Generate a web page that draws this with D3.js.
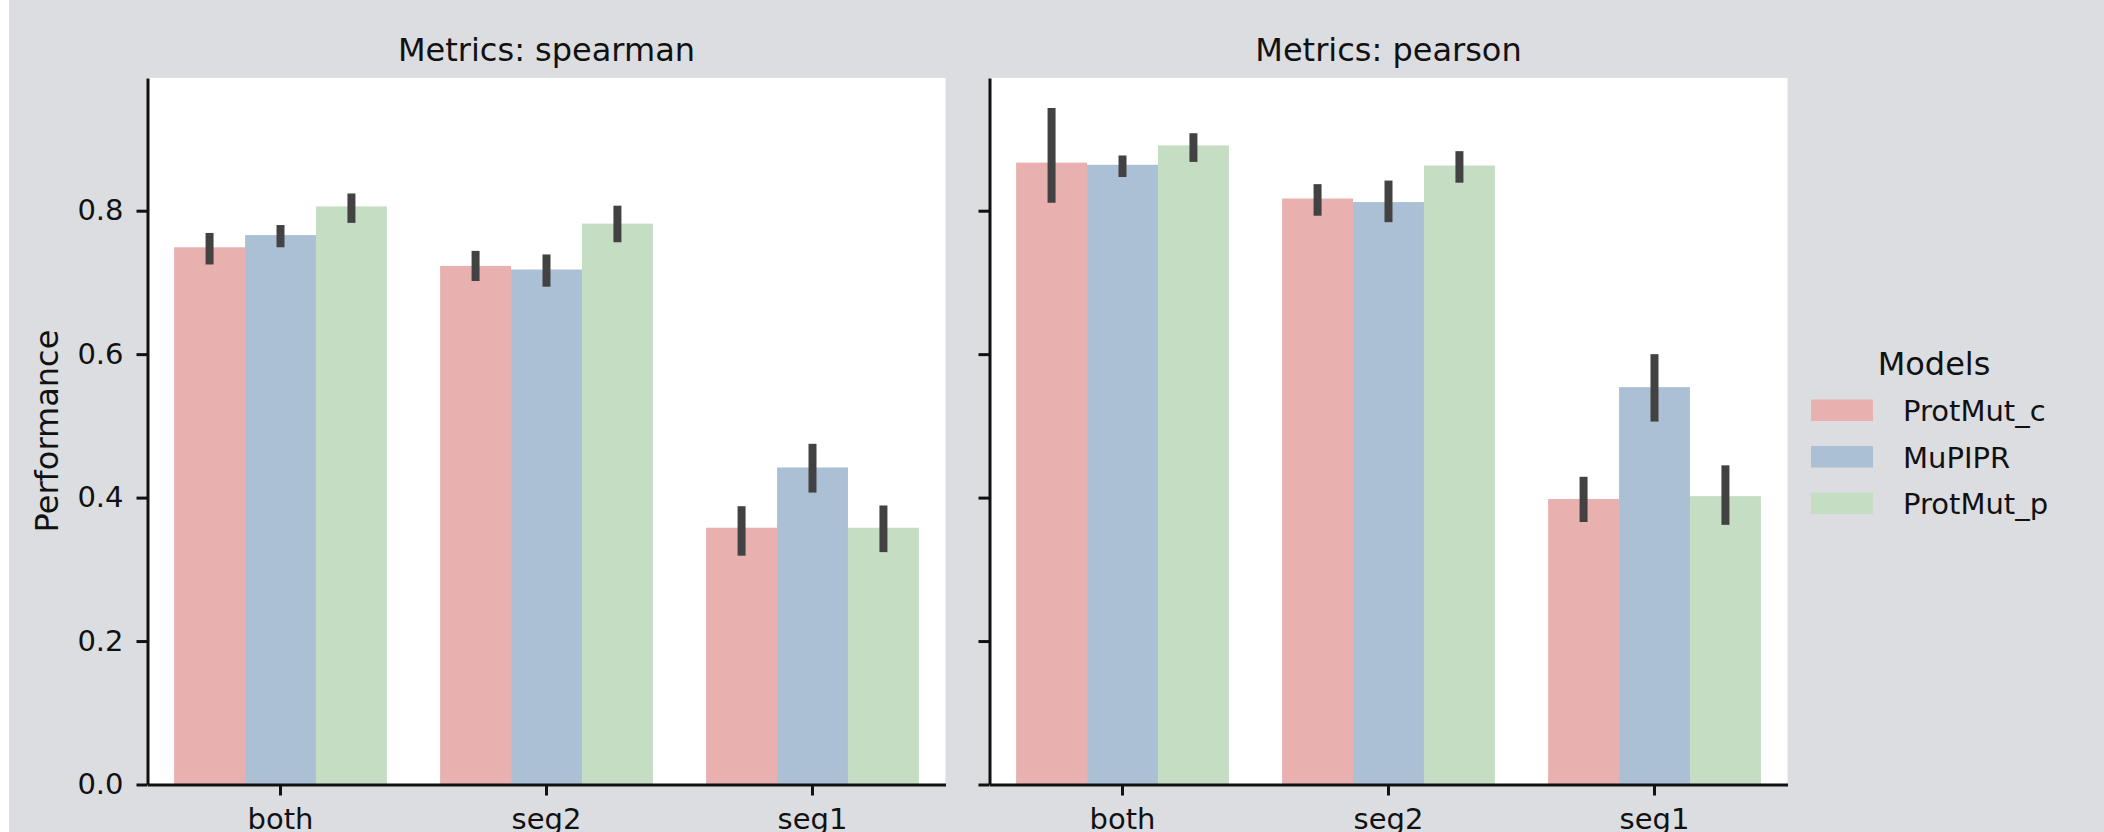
<!DOCTYPE html>
<html>
<head>
<meta charset="utf-8">
<script src="https://cdn.jsdelivr.net/npm/d3@7"></script>
<style>
  html, body { margin: 0; padding: 0; background: #ffffff; }
  svg { display: block; font-family: "DejaVu Sans", sans-serif; }
</style>
</head>
<body>
<div id="chart"></div>
<script>
// data
var categories = ["both", "seg2", "seg1"];
var models = ["ProtMut_c", "MuPIPR", "ProtMut_p"];
var metrics = ["spearman", "pearson"];
var yTicks = [0.0, 0.2, 0.4, 0.6, 0.8];

// rows = categories, columns = models
var spearmanMean = [[0.749, 0.766, 0.806], [0.723, 0.718, 0.782], [0.358, 0.442, 0.358]];
var spearmanLo   = [[0.725, 0.749, 0.783], [0.702, 0.694, 0.756], [0.319, 0.407, 0.324]];
var spearmanHi   = [[0.769, 0.780, 0.824], [0.744, 0.739, 0.807], [0.388, 0.475, 0.389]];
var pearsonMean  = [[0.867, 0.864, 0.891], [0.817, 0.812, 0.863], [0.398, 0.554, 0.402]];
var pearsonLo    = [[0.811, 0.847, 0.868], [0.793, 0.784, 0.839], [0.366, 0.506, 0.362]];
var pearsonHi    = [[0.943, 0.877, 0.908], [0.837, 0.842, 0.883], [0.429, 0.600, 0.445]];

var colors = ["#e9b0b0", "#abc0d5", "#c4ddc3"];
var ink = "#111111";

// setup
var w = 2104;
var h = 832;
var panelW = 798;
var panelLeft = [147.5, 989.5];
var plotTop = 78;
var plotBottom = 784.5;

var svg = d3.select("#chart")
    .append("svg")
    .attr("width", w)
    .attr("height", h);

svg.append("rect")
    .attr("x", 9).attr("y", 0)
    .attr("width", w - 9).attr("height", h)
    .attr("fill", "#dcdde0");

var y = d3.scaleLinear().domain([0, 0.985]).range([plotBottom, plotTop]);
var x = d3.scaleBand().domain(categories).range([0, panelW])
    .paddingInner(0.2).paddingOuter(0.1);
var xHue = d3.scaleBand().domain(models).range([0, x.bandwidth()]);

var panels = [
    {name: metrics[0], mean: spearmanMean, lo: spearmanLo, hi: spearmanHi},
    {name: metrics[1], mean: pearsonMean, lo: pearsonLo, hi: pearsonHi}
];

panels.forEach(function(p, pi) {
    var g = svg.append("g").attr("transform", "translate(" + panelLeft[pi] + ",0)");

    g.append("rect")
        .attr("x", 0).attr("y", plotTop)
        .attr("width", panelW).attr("height", plotBottom - plotTop)
        .attr("fill", "#ffffff");

    // flatten to bar records
    var rows = [];
    categories.forEach(function(c, ci) {
        models.forEach(function(m, mi) {
            rows.push({cat: c, model: m, mi: mi,
                       v: p.mean[ci][mi], lo: p.lo[ci][mi], hi: p.hi[ci][mi]});
        });
    });

    g.append("g")
        .selectAll("rect")
        .data(rows)
        .join("rect")
            .attr("x", function(d) { return x(d.cat) + xHue(d.model); })
            .attr("y", function(d) { return y(d.v); })
            .attr("width", xHue.bandwidth())
            .attr("height", function(d) { return y(0) - y(d.v); })
            .attr("fill", function(d) { return colors[d.mi]; });

    // error bars
    g.append("g")
        .selectAll("line")
        .data(rows)
        .join("line")
            .attr("x1", function(d) { return x(d.cat) + xHue(d.model) + xHue.bandwidth() / 2; })
            .attr("x2", function(d) { return x(d.cat) + xHue(d.model) + xHue.bandwidth() / 2; })
            .attr("y1", function(d) { return y(d.lo); })
            .attr("y2", function(d) { return y(d.hi); })
            .attr("stroke", "#424242")
            .attr("stroke-width", 8);

    var yAxis = d3.axisLeft(y)
        .tickValues(yTicks)
        .tickSize(11)
        .tickSizeOuter(0)
        .tickPadding(13)
        .tickFormat(pi === 0 ? d3.format(".1f") : function() { return ""; });

    var xAxis = d3.axisBottom(x)
        .tickSize(11)
        .tickSizeOuter(0)
        .tickPadding(13);

    var ya = g.append("g").call(yAxis);
    var xa = g.append("g").attr("transform", "translate(0," + plotBottom + ")").call(xAxis);

    [ya, xa].forEach(function(a) {
        a.attr("font-family", "DejaVu Sans").attr("font-size", 29);
        a.select(".domain").attr("stroke", ink).attr("stroke-width", 3);
        a.selectAll(".tick line").attr("stroke", ink).attr("stroke-width", 3);
        a.selectAll(".tick text").attr("fill", ink);
    });

    g.append("text")
        .attr("x", panelW / 2)
        .attr("y", 60.7)
        .attr("text-anchor", "middle")
        .attr("font-size", 32)
        .attr("fill", ink)
        .text("Metrics: " + p.name);
});

// y label
svg.append("text")
    .attr("transform", "translate(58,431) rotate(-90)")
    .attr("text-anchor", "middle")
    .attr("font-size", 32)
    .attr("fill", ink)
    .text("Performance");

// legend
var legend = svg.append("g");
legend.append("text")
    .attr("x", 1934).attr("y", 375)
    .attr("text-anchor", "middle")
    .attr("font-size", 32)
    .attr("fill", ink)
    .text("Models");

var items = legend.selectAll("g.item")
    .data(models)
    .join("g")
        .attr("class", "item")
        .attr("transform", function(d, i) { return "translate(0," + (399.5 + i * 46.5) + ")"; });

items.append("rect")
    .attr("x", 1811).attr("y", 0)
    .attr("width", 62).attr("height", 21.5)
    .attr("fill", function(d, i) { return colors[i]; });

items.append("text")
    .attr("x", 1903).attr("y", 21.5)
    .attr("font-size", 29)
    .attr("fill", ink)
    .text(function(d) { return d; });
</script>
</body>
</html>
